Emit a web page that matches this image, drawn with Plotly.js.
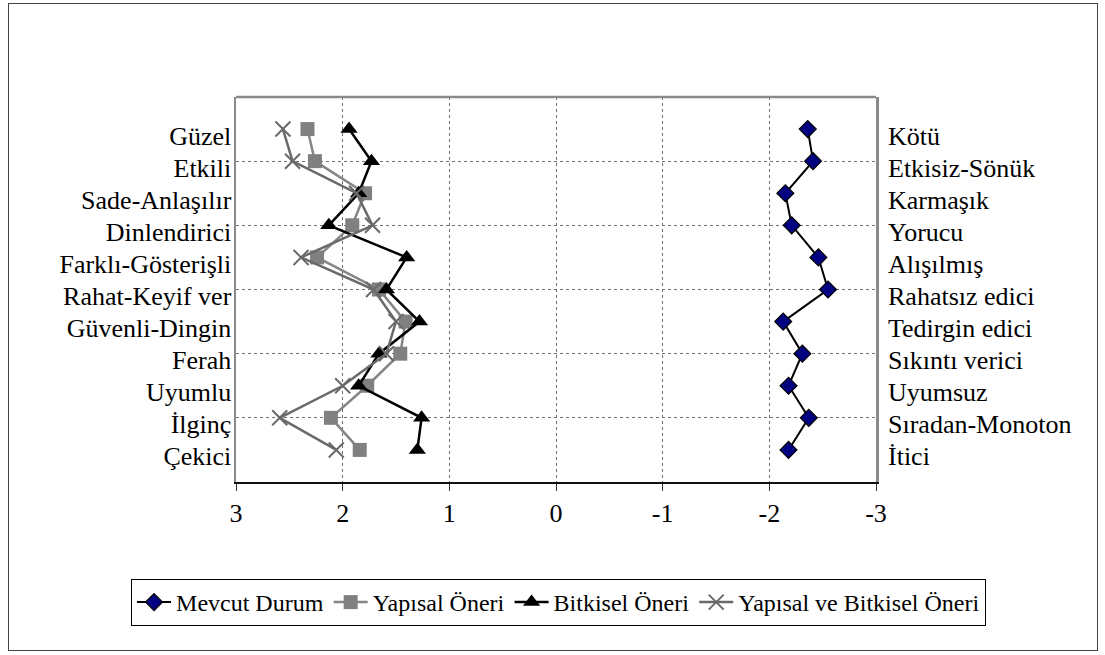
<!DOCTYPE html>
<html>
<head>
<meta charset="utf-8">
<script src="https://cdn.plot.ly/plotly-3.0.1.min.js"></script>
<style>
  html, body { margin: 0; padding: 0; background: #fff; }
  #chart { width: 1105px; height: 655px; }
  #frame { position: absolute; left: 8px; top: 3px; width: 1088px; height: 646px; border: 1px solid #444; pointer-events: none; }
</style>
</head>
<body>
<div id="chart"></div>
<div id="frame"></div>
<script>
// Left (positive) adjectives, top to bottom
var leftLabels = ["Güzel", "Etkili", "Sade-Anlaşılır", "Dinlendirici", "Farklı-Gösterişli",
  "Rahat-Keyif ver", "Güvenli-Dingin", "Ferah", "Uyumlu", "İlginç", "Çekici"];
// Right (negative) adjectives, top to bottom
var rightLabels = ["Kötü", "Etkisiz-Sönük", "Karmaşık", "Yorucu", "Alışılmış",
  "Rahatsız edici", "Tedirgin edici", "Sıkıntı verici", "Uyumsuz", "Sıradan-Monoton", "İtici"];

var seriesNames = ["Mevcut Durum", "Yapısal Öneri", "Bitkisel Öneri", "Yapısal ve Bitkisel Öneri"];

var mevcut   = [-2.36, -2.41, -2.15, -2.21, -2.46, -2.55, -2.13, -2.31, -2.18, -2.37, -2.18];
var yapisal  = [2.33, 2.26, 1.79, 1.91, 2.24, 1.66, 1.41, 1.46, 1.77, 2.11, 1.84];
var bitkisel = [1.94, 1.73, 1.85, 2.13, 1.40, 1.59, 1.28, 1.66, 1.85, 1.26, 1.30];
var yapBit   = [2.56, 2.47, 1.87, 1.72, 2.39, 1.71, 1.50, 1.59, 2.00, 2.59, 2.06];

var xTicks = [3, 2, 1, 0, -1, -2, -3];

// row positions derived from category order
var pos = leftLabels.map(function (_, i) { return i + 1; });
var gridPos = pos.filter(function (p) { return p % 2 === 0; });
var LABEL_SHIFT = 0.2; // labels sit slightly below their row, as in the original
var labelPos = pos.map(function (p) { return p + LABEL_SHIFT; });

var FONT = "Liberation Serif";

var traces = [
  {
    name: seriesNames[0], x: mevcut, y: pos, yaxis: "y2",
    mode: "lines+markers", type: "scatter",
    line: { color: "#000000", width: 2 },
    marker: { symbol: "diamond", size: 13, color: "#000080", line: { color: "#000000", width: 1.2 } }
  },
  {
    name: seriesNames[1], x: yapisal, y: pos,
    mode: "lines+markers", type: "scatter",
    line: { color: "#858585", width: 2.5 },
    marker: { symbol: "square", size: 14, color: "#808080", line: { color: "#808080", width: 0 } }
  },
  {
    name: seriesNames[2], x: bitkisel, y: pos,
    mode: "lines+markers", type: "scatter",
    line: { color: "#000000", width: 2.5 },
    marker: { symbol: "triangle-up", size: 15, color: "#000000", line: { color: "#000000", width: 0 } }
  },
  {
    name: seriesNames[3], x: yapBit, y: pos,
    mode: "lines+markers", type: "scatter",
    line: { color: "#6a6a6a", width: 2.5 },
    marker: { symbol: "x-thin-open", size: 15, color: "#6a6a6a", line: { color: "#6a6a6a", width: 2 } }
  }
];

var layout = {
  width: 1105, height: 655,
  margin: { l: 236, r: 229, t: 97, b: 173 },
  paper_bgcolor: "#ffffff", plot_bgcolor: "#ffffff",
  font: { family: FONT, size: 26, color: "#000" },
  showlegend: true,
  xaxis: {
    range: [3, -3], tickvals: xTicks, ticktext: xTicks.map(String),
    showgrid: true, gridcolor: "#6f6f6f", gridwidth: 1, griddash: "dot",
    zeroline: false, showline: true, linecolor: "#111", linewidth: 2,
    ticks: "outside", ticklen: 7, tickcolor: "#333", tickwidth: 1,
    ticklabelstandoff: 0,
    tickfont: { family: FONT, size: 26, color: "#000" }
  },
  yaxis: {
    range: [12, 0], tickvals: labelPos, ticktext: leftLabels,
    showgrid: false, zeroline: false,
    showline: true, linecolor: "#8a8a8a", linewidth: 2.5, mirror: true,
    ticks: "", ticklabelstandoff: -3,
    tickfont: { family: FONT, size: 26, color: "#000" },
    minor: { tickmode: "array", tickvals: gridPos, showgrid: true, gridcolor: "#6f6f6f", gridwidth: 1, griddash: "dot", ticks: "" }
  },
  yaxis2: {
    range: [12, 0], tickvals: labelPos, ticktext: rightLabels,
    overlaying: "y", side: "right",
    showgrid: false, zeroline: false, showline: false,
    ticks: "", ticklabelstandoff: 11,
    tickfont: { family: FONT, size: 26, color: "#000" }
  },
  shapes: [
    { type: "line", xref: "paper", yref: "paper", x0: 0, x1: 1, y0: 1, y1: 1,
      line: { color: "#8a8a8a", width: 2.5 }, layer: "above" }
  ],
  legend: {
    orientation: "h", x: -0.164, xanchor: "left", y: -0.252, yanchor: "top",
    bordercolor: "#000", borderwidth: 1, bgcolor: "#fff",
    font: { family: FONT, size: 24, color: "#000" },
    itemwidth: 34, tracegroupgap: 0
  }
};

Plotly.newPlot("chart", traces, layout, { displayModeBar: false, staticPlot: true });
</script>
</body>
</html>
